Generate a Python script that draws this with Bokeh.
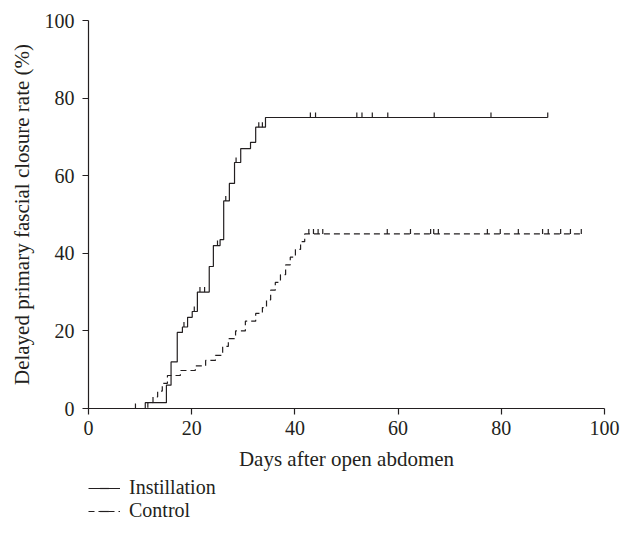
import numpy as np
from bokeh.plotting import figure
from bokeh.layouts import column
from bokeh.models import Range1d, Legend, LegendItem, FixedTicker
from bokeh.embed import file_html
from bokeh.resources import INLINE

# ---- data ----
inst_days = [0, 11.0, 15.1, 16.0, 17.2, 18.2, 19.2, 20.1, 21.1, 23.4, 24.2, 25.5,
             26.2, 27.3, 28.3, 29.5, 31.4, 32.4, 34.3, 89.0]
inst_rate = [0, 1.5, 6.0, 12.0, 19.6, 21.0, 23.5, 25.0, 30.0, 36.6, 42.0, 43.5,
             53.5, 58.0, 63.4, 67.0, 68.6, 72.5, 75.0, 75.0]
inst_censor_days = [18.5, 20.5, 21.6, 22.5, 25.0, 26.6, 28.6, 33.0, 33.7,
                    43.0, 44.0, 52.0, 53.0, 55.0, 58.0, 67.0, 78.0, 89.0]

ctrl_days = [0, 11.5, 12.5, 13.4, 14.3, 15.3, 17.8, 20.7, 22.7, 24.6, 26.0, 27.1,
             28.5, 30.4, 32.4, 33.7, 34.5, 35.3, 36.2, 37.2, 38.2, 39.1, 40.1,
             41.1, 41.9, 95.5]
ctrl_rate = [0, 1.5, 3.0, 4.5, 6.5, 8.5, 9.8, 11.0, 12.4, 13.7, 16.0, 18.0,
             20.0, 22.5, 24.5, 26.0, 28.0, 30.5, 32.5, 34.5, 37.0, 39.0, 41.0,
             43.0, 45.0, 45.0]
ctrl_censor_days = [9.1, 42.7, 43.6, 44.5, 45.4, 57.9, 62.4, 66.3, 66.9, 67.8,
                    77.3, 79.8, 83.3, 88.0, 89.1, 91.5, 93.4, 95.5]

x_ticks = [0, 20, 40, 60, 80, 100]
y_ticks = [0, 20, 40, 60, 80, 100]
series_names = ["Instillation", "Control"]


def step_value(days, rates, t):
    idx = np.searchsorted(np.asarray(days), np.asarray(t), side="right") - 1
    return list(np.asarray(rates)[idx])


INK = "#231f20"
FONT = "Liberation Serif"
TICK_FS = "20px"
LAB_FS = "21px"
DASH = "6 4"

inst_cy = step_value(inst_days, inst_rate, inst_censor_days)
ctrl_cy = step_value(ctrl_days, ctrl_rate, ctrl_censor_days)

p = figure(width=621, height=476, output_backend="svg", toolbar_location=None,
           x_range=Range1d(0, 100), y_range=Range1d(0, 100),
           min_border_left=88, min_border_right=17, min_border_top=20,
           min_border_bottom=68)
p.outline_line_color = None
p.grid.visible = False

for ax in (p.xaxis[0], p.yaxis[0]):
    ax.axis_line_color = INK
    ax.axis_line_width = 1.2
    ax.major_tick_line_color = INK
    ax.major_tick_line_width = 1.2
    ax.major_tick_in = 0
    ax.major_tick_out = 6
    ax.minor_tick_line_color = None
    ax.major_label_text_font = FONT
    ax.major_label_text_font_size = TICK_FS
    ax.major_label_text_color = INK
    ax.axis_label_text_font = FONT
    ax.axis_label_text_font_size = LAB_FS
    ax.axis_label_text_color = INK
    ax.axis_label_text_font_style = "normal"

p.xaxis.ticker = FixedTicker(ticks=x_ticks)
p.yaxis.ticker = FixedTicker(ticks=y_ticks)
p.xaxis.axis_label = "Days after open abdomen"
p.yaxis.axis_label = "Delayed primary fascial closure rate (%)"
p.xaxis.major_label_standoff = 6
p.xaxis.axis_label_standoff = 9
p.yaxis.major_label_standoff = 8
p.yaxis.axis_label_standoff = 8

# curves
p.step(inst_days, inst_rate, mode="after", line_color=INK, line_width=1.2)
p.step(ctrl_days, ctrl_rate, mode="after", line_color=INK, line_width=1.2,
       line_dash=DASH)

# censor ticks
p.ray(inst_censor_days, inst_cy, length=5, length_units="screen", angle=np.pi / 2,
      line_color=INK, line_width=1.2)
p.ray(ctrl_censor_days, ctrl_cy, length=5, length_units="screen", angle=np.pi / 2,
      line_color=INK, line_width=1.2)

# ---- legend strip below the chart (its data lie outside its visible range) ----
lg = figure(width=621, height=46, output_backend="svg", toolbar_location=None,
            x_axis_type=None, y_axis_type=None,
            x_range=Range1d(0, 100), y_range=Range1d(200, 300),
            min_border_left=88, min_border_right=0, min_border_top=0,
            min_border_bottom=0)
lg.outline_line_color = None
lg.grid.visible = False

l_inst = lg.step(inst_days, inst_rate, mode="after", line_color=INK, line_width=1.2)
m_inst = lg.scatter(inst_censor_days, inst_cy, marker="dash", angle=np.pi / 2,
                    size=6, line_color=INK, line_width=1.2)
l_ctrl = lg.step(ctrl_days, ctrl_rate, mode="after", line_color=INK, line_width=1.2,
                 line_dash=DASH)
m_ctrl = lg.scatter(ctrl_censor_days, ctrl_cy, marker="dash", angle=np.pi / 2,
                    size=6, line_color=INK, line_width=1.2)

legend = Legend(items=[LegendItem(label=series_names[0], renderers=[l_inst, m_inst]),
                       LegendItem(label=series_names[1], renderers=[l_ctrl, m_ctrl])],
                location="bottom_left", orientation="vertical",
                label_text_font=FONT, label_text_font_size=TICK_FS, label_text_color=INK,
                glyph_width=32, glyph_height=22, label_height=22, label_standoff=9,
                spacing=0, padding=0, margin=0, border_line_color=None,
                background_fill_alpha=0)
lg.add_layout(legend, "center")

layout = column(p, lg, spacing=0)
open("out.html", "w").write(file_html(layout, INLINE))
